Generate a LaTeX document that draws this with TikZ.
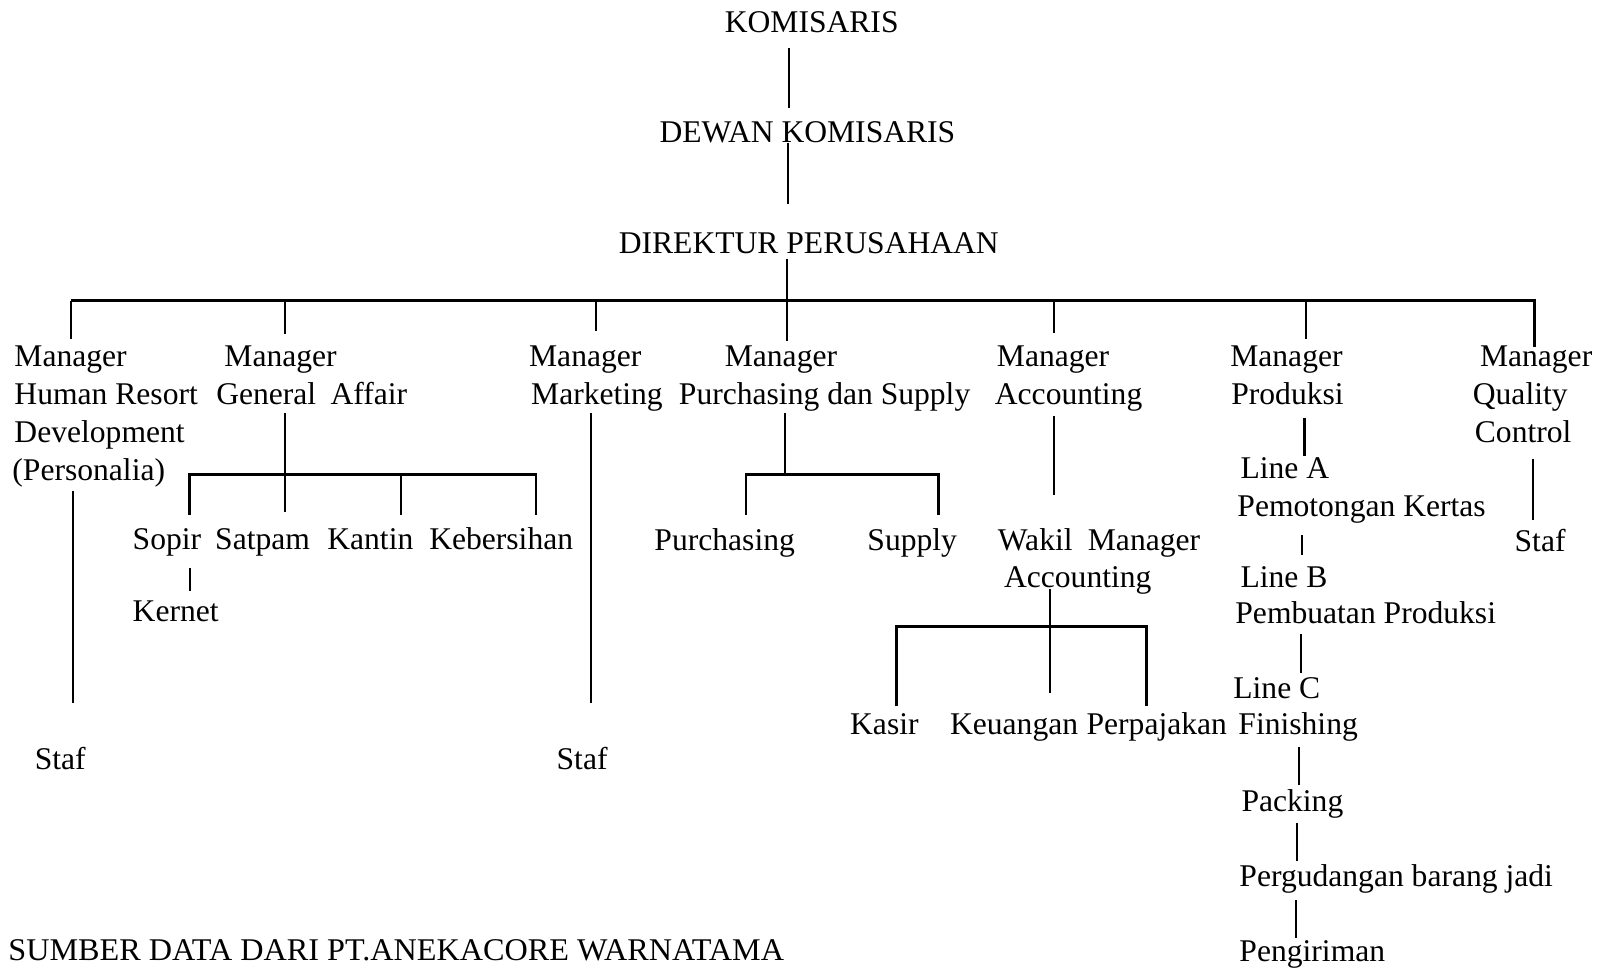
\documentclass[tikz,border=0pt]{standalone}
\usepackage{fontspec}
\setmainfont{Liberation Serif}
\begin{document}
\begin{tikzpicture}[x=1pt,y=-1pt,
  t/.style={anchor=base west, inner sep=0pt, font=\fontsize{31}{36.7}\selectfont},
  ln/.style={line width=2pt},
  barln/.style={line width=2.8pt}]
\useasboundingbox[fill=white] (0,0) rectangle (1568,952);

% ---- top ----
\node[t] (kom) at (711,32) {KOMISARIS};
\node[t] (dewan) at (647,140) {DEWAN KOMISARIS};
\node[t] (dir) at (607,249) {DIREKTUR PERUSAHAAN};

% ---- managers ----
\node[t] (hr1) at (14,360) {Manager};
\node[t] (hr2) at (14,397) {Human Resort};
\node[t] (hr3) at (14,434) {Development};
\node[t] (hr4) at (12,471) {(Personalia)};

\node[t] (ga1) at (220,360) {Manager};
\node[t] (ga2) at (212,397) {General\hspace{14pt}Affair};

\node[t] (mk1) at (519,360) {Manager};
\node[t] (mk2) at (521,397) {Marketing};

\node[t] (pu1) at (711,360) {Manager};
\node[t] (pu2) at (666,397) {Purchasing dan Supply};

\node[t] (ac1) at (978,360) {Manager};
\node[t] (ac2) at (976,397) {Accounting};

\node[t] (pr1) at (1207,360) {Manager};
\node[t] (pr2) at (1208,397) {Produksi};

\node[t] (qc1) at (1452,360) {Manager};
\node[t] (qc2) at (1445,397) {Quality};
\node[t] (qc3) at (1447,434) {Control};

% ---- general affair ----
\node[t] (sopir) at (130,539) {Sopir};
\node[t] (satpam) at (211,539) {Satpam};
\node[t] (kantin) at (321,539) {Kantin};
\node[t] (keber) at (421,539) {Kebersihan};
\node[t] (kernet) at (130,610) {Kernet};

% ---- purchasing ----
\node[t] (purch) at (642,540) {Purchasing};
\node[t] (supply) at (851,540) {Supply};

% ---- accounting ----
\node[t] (wk1) at (979,540) {Wakil\hspace{15pt}Manager};
\node[t] (wk2) at (985,576) {Accounting};
\node[t] (kasir) at (834,721) {Kasir};
\node[t] (keu) at (932,721) {Keuangan};
\node[t] (pajak) at (1066,721) {Perpajakan};

% ---- produksi ----
\node[t] (la1) at (1217,470) {Line A};
\node[t] (la2) at (1214,507) {Pemotongan Kertas};
\node[t] (lb1) at (1217,576) {Line B};
\node[t] (lb2) at (1212,612) {Pembuatan Produksi};
\node[t] (lc1) at (1210,685) {Line C};
\node[t] (lc2) at (1215,721) {Finishing};
\node[t] (pack) at (1218,796) {Packing};
\node[t] (gud) at (1216,870) {Pergudangan barang jadi};
\node[t] (kirim) at (1216,943) {Pengiriman};

% ---- staf ----
\node[t] (stafhr) at (34,755) {Staf};
\node[t] (stafmk) at (546,755) {Staf};
\node[t] (stafqc) at (1486,541) {Staf};

\node[t, xscale=1.02] (sumber) at (8,942) {SUMBER DATA DARI PT.ANEKACORE WARNATAMA};

% ---- coordinates ----
\coordinate (k0) at (774,47);   \coordinate (k1) at (774,106);
\coordinate (d0) at (773,140);  \coordinate (d1) at (773,200);
\coordinate (r0) at (772,254);  \coordinate (r1) at (772,335);
\coordinate (barL) at (70,295); \coordinate (barR) at (1506,295);
\coordinate (hrT) at (70,333);
\coordinate (gaT) at (280,328);
\coordinate (mkT) at (585,325);
\coordinate (acT) at (1034,327);
\coordinate (prT) at (1281,333);
\coordinate (qcT) at (1506,340);

% main chain
\draw[ln] (k0) -- (k1);
\draw[ln] (d0) -- (d1);
\draw[ln] (r0) -- (r1);
\draw[barln] (barL) -- (barR) -- (qcT);
\draw[ln] (barL) -- (hrT);
\draw[ln] (280,295) -- (gaT);
\draw[ln] (585,295) -- (mkT);
\draw[ln] (1034,295) -- (acT);
\draw[ln] (1281,295) -- (prT);

% HR
\coordinate (hrA) at (72,482); \coordinate (hrB) at (72,690);
\draw[ln] (hrA) -- (hrB);

% GA
\coordinate (gaA) at (280,405); \coordinate (gaB) at (280,502);
\draw[ln] (gaA) -- (gaB);
\coordinate (gbL) at (186,466); \coordinate (gbR) at (526,466);
\draw[barln] (186,505) -- (gbL) -- (gbR) -- (526,505);
\draw[ln] (393,466) -- (393,505);
\draw[ln] (186,557) -- (186,580);

% Marketing
\coordinate (mkA) at (580,405); \coordinate (mkB) at (580,690);
\draw[ln] (mkA) -- (mkB);

% Purchasing
\coordinate (puA) at (770,405); \coordinate (puB) at (770,466);
\draw[ln] (puA) -- (puB);
\draw[barln] (732,505) -- (732,466) -- (921,466) -- (921,505);

% Accounting
\draw[ln] (1034,408) -- (1034,486);
\draw[ln] (1030,578) -- (1030,680);
\draw[barln] (880,693) -- (880,615) -- (1125,615) -- (1125,693);

% Produksi
\draw[ln] (1280,410) -- (1280,447);
\draw[ln] (1278,525) -- (1278,545);
\draw[ln] (1277,622) -- (1277,660);
\draw[ln] (1275,733) -- (1275,770);
\draw[ln] (1273,808) -- (1273,845);
\draw[ln] (1272,883) -- (1272,920);

% QC
\draw[ln] (1504,450) -- (1504,510);
\end{tikzpicture}
\end{document}
